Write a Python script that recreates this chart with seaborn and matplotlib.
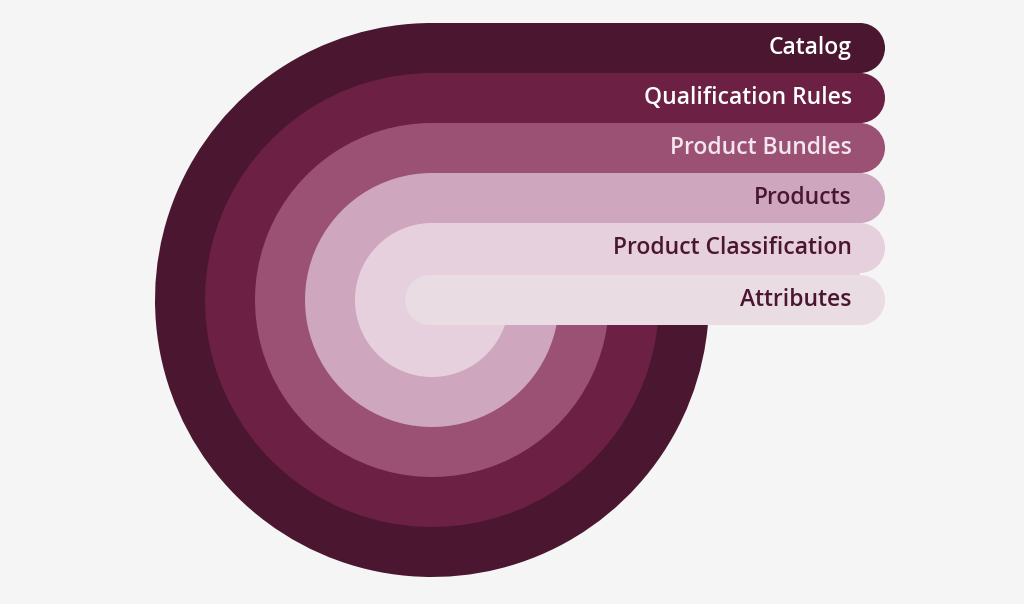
import matplotlib
matplotlib.use("Agg")
import matplotlib.pyplot as plt
from matplotlib.patches import Wedge, Rectangle, Circle
import seaborn as sns

labels = ["Catalog", "Qualification Rules", "Product Bundles", "Products",
          "Product Classification", "Attributes"]
fills = ["#4a1630", "#6b2044", "#9b5174", "#cea6be", "#e7d0dd", "#e9dce3"]
text_colors = ["#ffffff", "#ffffff", "#f3e6ee", "#4a1630", "#4a1630", "#4a1630"]

sns.set_theme(style="white")
plt.rcParams['font.family'] = ['Open Sans', 'DejaVu Sans']

fig = plt.figure(figsize=(10.24, 6.04), dpi=100, facecolor="#f5f5f5")
ax = fig.add_axes([0, 0, 1, 1])
ax.set_facecolor("#f5f5f5")
ax.set_xlim(0, 1024)
ax.set_ylim(604, 0)
ax.axis("off")

cx, cy = 432, 300
R0, band = 277, 50
xend = 860
for i, (lab, fc, tc) in enumerate(zip(labels, fills, text_colors)):
    r = R0 - band * i
    top = cy - r
    if i < len(labels) - 1:
        ax.add_patch(Wedge((cx, cy), r, -360, -90, facecolor=fc, edgecolor="none"))
        ax.add_patch(Rectangle((cx, top), xend - cx, band + 4, facecolor=fc, edgecolor="none"))
    else:
        top = 275
        ax.add_patch(Rectangle((430, top), xend - 430, band, facecolor=fc, edgecolor="none"))
        ax.add_patch(Circle((430, top + band / 2), band / 2, facecolor=fc, edgecolor="none"))
    ax.add_patch(Circle((xend, top + band / 2), band / 2, facecolor=fc, edgecolor="none"))
    ax.text(852, top + band / 2, lab, ha="right", va="center", fontsize=16.5,
            color=tc, fontweight="semibold")

fig.savefig("out.png", dpi=100, facecolor=fig.get_facecolor())
